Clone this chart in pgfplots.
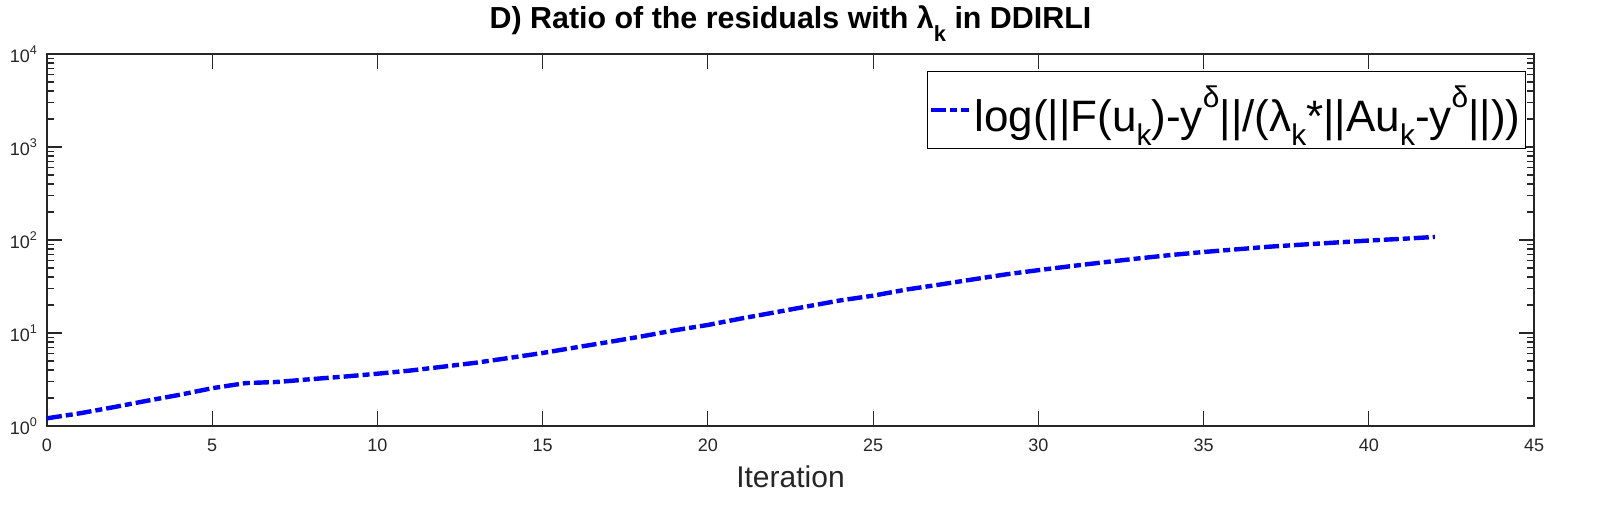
\documentclass[border=0pt]{standalone}
\usepackage{fontspec}
\setmainfont{Liberation Sans}
\usepackage{graphicx}
\usepackage{pgfplots}
\pgfplotsset{compat=1.18}
\definecolor{axgray}{rgb}{0.15,0.15,0.15}
\newcommand{\tsub}[1]{\raisebox{-0.45em}{\scalebox{0.72}{#1}}}
\newcommand{\lsub}[1]{\raisebox{-0.32em}{\scalebox{0.68}{#1}}}
\newcommand{\lsup}[1]{\raisebox{0.55em}{\scalebox{0.68}{#1}}}
\begin{document}
\begin{tikzpicture}
\path[use as bounding box] (-23.5bp,-42.5bp) rectangle (776bp,213bp);
\begin{axis}[
  scale only axis,
  width=743.5bp, height=186bp,
  ymode=log,
  xmin=0, xmax=45, ymin=1, ymax=10000,
  xtick={0,5,...,45},
  ytick={1,10,100,1000,10000},
  yticklabels={10\textsuperscript{0},10\textsuperscript{1},10\textsuperscript{2},10\textsuperscript{3},10\textsuperscript{4}},
  /pgf/number format/assume math mode=true,
  tick align=inside,
  major tick length=7.5bp,
  minor tick length=3.5bp,
  axis line style={axgray, line width=0.6bp},
  every tick/.style={axgray, line width=0.6bp},
  ticklabel style={font=\fontsize{9bp}{10bp}\selectfont, text=axgray},
  xticklabel style={yshift=-3bp},
  yticklabel style={xshift=-1bp},
  title={\textbf{D) Ratio of the residuals with λ\tsub{k} in DDIRLI}},
  title style={at={(0.5,1)}, anchor=base, yshift=7bp, font=\fontsize{15.2bp}{17bp}\selectfont},
  xlabel={Iteration},
  xlabel style={at={(axis description cs:0.5,0)}, anchor=base, yshift=-30.5bp, font=\fontsize{15bp}{17bp}\selectfont, text=axgray},
  legend style={at={(1,1)}, anchor=north east, xshift=-4bp, yshift=-8.5bp,
    draw=black, line width=0.5bp, inner xsep=1bp, inner ysep=5bp,
    font=\fontsize{22bp}{25bp}\selectfont,
    nodes={inner xsep=1.5bp, inner ysep=2bp}},
  legend cell align=left,
  legend image code/.code={\draw[#1] (0bp,0bp) -- (19bp,0bp);},
]
\addplot[blue, line width=2.2bp, dash pattern=on 7.5bp off 2bp on 3.5bp off 2bp] coordinates {
(0,1.21) (1,1.37) (2,1.59) (3,1.86) (4,2.16) (5,2.55) (6,2.89) (7,2.98) (8,3.19) (9,3.40)
(10,3.65) (11,3.95) (12,4.35) (13,4.8) (14,5.4) (15,6.1) (16,7.0) (17,8.0) (18,9.2) (19,10.7)
(20,12.2) (21,14.3) (22,16.6) (23,19.3) (24,22.4) (25,25.2) (26,29.3) (27,33.1) (28,37.6) (29,42.6)
(30,47.4) (31,52.4) (32,57.7) (33,63.2) (34,68.9) (35,74.3) (36,79.4) (37,84.8) (38,89.3) (39,93.9)
(40,98.7) (41,102.9) (42,107.9)
};
\addlegendentry{log(||F(u\lsub{k})-y\lsup{δ}||/(λ\lsub{k}*||Au\lsub{k}-y\lsup{δ}||))}
\end{axis}
\end{tikzpicture}
\end{document}
